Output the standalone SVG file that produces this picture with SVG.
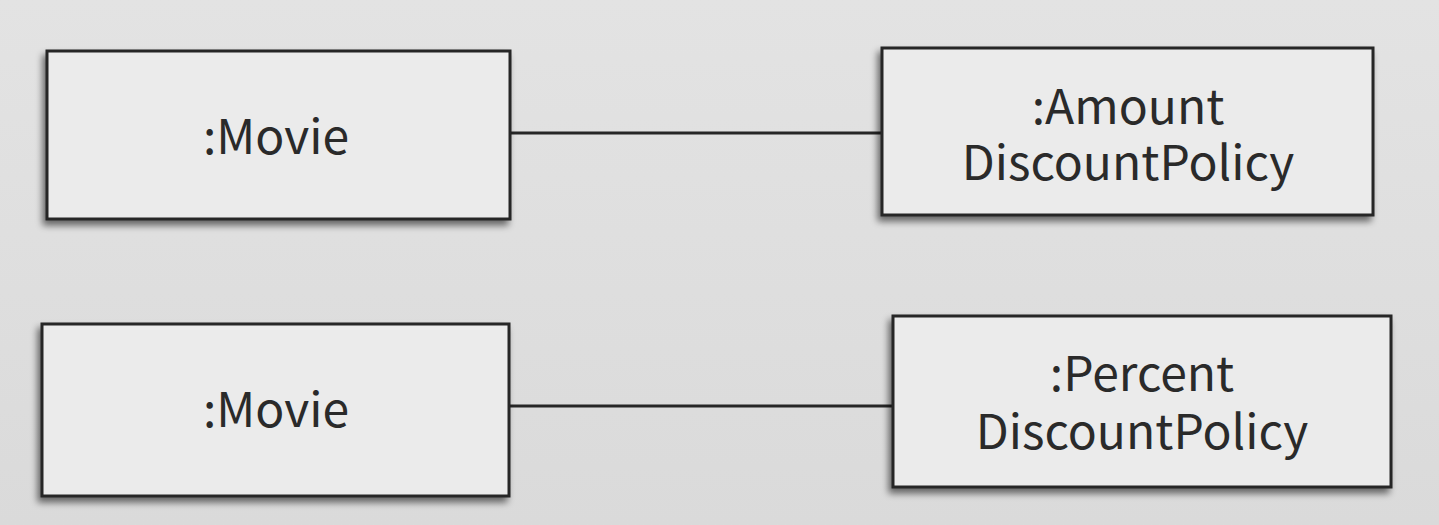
<svg xmlns="http://www.w3.org/2000/svg" width="1439" height="525" viewBox="0 0 1439 525">
<defs>
<linearGradient id="bg" x1="0" y1="0" x2="0" y2="1">
<stop offset="0" stop-color="#e3e3e3"/>
<stop offset="1" stop-color="#dadada"/>
</linearGradient>
<filter id="sh" x="-10%" y="-20%" width="120%" height="140%">
<feGaussianBlur in="SourceAlpha" stdDeviation="3.5"/>
<feOffset dx="-3" dy="5" result="b"/>
<feComponentTransfer><feFuncA type="linear" slope="0.55"/></feComponentTransfer>
<feMerge><feMergeNode/><feMergeNode in="SourceGraphic"/></feMerge>
</filter>
<style>
.box{fill:#ebebeb;stroke:#262626;stroke-width:3;filter:url(#sh)}
.lbl{font-family:"Noto Sans CJK KR","Noto Sans","Liberation Sans",sans-serif;font-size:48px;fill:#2a2a2a;text-anchor:middle}
.conn{stroke:#262626;stroke-width:3;fill:none}
</style>
</defs>
<rect width="1439" height="525" fill="url(#bg)"/>
<g id="connectors">
<line class="conn" x1="510" y1="133" x2="882" y2="133"/>
<line class="conn" x1="509" y1="406" x2="893" y2="406"/>
</g>
<g id="movie1">
<rect class="box" x="47" y="51" width="463" height="168"/>
<text class="lbl" x="276" y="154">:Movie</text>
</g>
<g id="amount">
<rect class="box" x="882" y="48" width="491" height="167"/>
<text class="lbl" x="1128" y="124">:Amount</text>
<text class="lbl" x="1128" y="180">DiscountPolicy</text>
</g>
<g id="movie2">
<rect class="box" x="42" y="324" width="467" height="172"/>
<text class="lbl" x="276" y="427">:Movie</text>
</g>
<g id="percent">
<rect class="box" x="893" y="316" width="498" height="171"/>
<text class="lbl" x="1142" y="391">:Percent</text>
<text class="lbl" x="1142" y="449">DiscountPolicy</text>
</g>
</svg>
